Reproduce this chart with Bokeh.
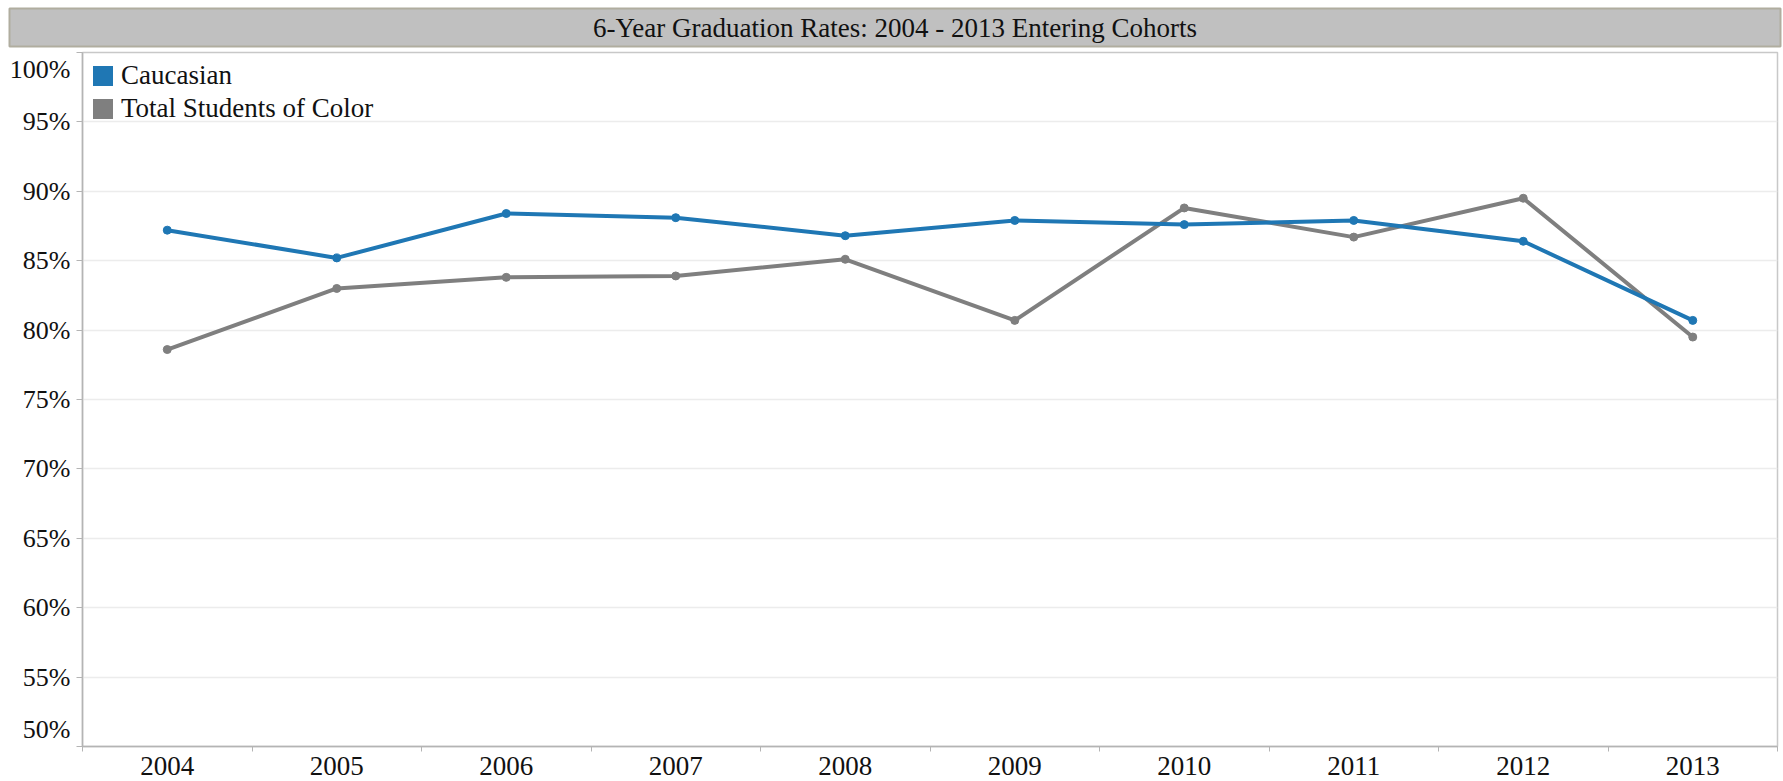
from bokeh.plotting import figure
from bokeh.models import (FixedTicker, Range1d, Label, Legend, LegendItem,
                          ColumnDataSource)
from bokeh.layouts import column
from bokeh.embed import file_html
from bokeh.resources import INLINE

# ---------------- data ----------------
title_text = "6-Year Graduation Rates: 2004 - 2013 Entering Cohorts"
years = ["2004", "2005", "2006", "2007", "2008", "2009", "2010", "2011", "2012", "2013"]
caucasian = [87.2, 85.2, 88.4, 88.1, 86.8, 87.9, 87.6, 87.9, 86.4, 80.7]
students_of_color = [78.6, 83.0, 83.8, 83.9, 85.1, 80.7, 88.8, 86.7, 89.5, 79.5]
series_names = ["Caucasian", "Total Students of Color"]
y_tick_values = [50, 55, 60, 65, 70, 75, 80, 85, 90, 95, 100]

FONT = "Liberation Serif"
BLUE = "#1f77b4"
GRAY = "#7f7f7f"
W = 1783

# ---------------- title bar ----------------
tf = figure(width=W, height=51, title=None, toolbar_location=None,
            output_backend="svg", x_axis_type=None, y_axis_type=None,
            x_range=Range1d(0, 1), y_range=Range1d(0, 1),
            min_border_left=9, min_border_right=3, min_border_top=8,
            min_border_bottom=5, frame_align=False)
tf.background_fill_color = "#c0c0c0"
tf.border_fill_color = "white"
tf.outline_line_color = "#b0ad9f"
tf.outline_line_width = 2
tf.grid.visible = False
tf.add_layout(Label(x=0.5, y=0.5, text=title_text, text_align="center",
                    text_baseline="middle", text_font=FONT,
                    text_font_size="27px", text_color="#111111"))

# ---------------- main plot ----------------
n = len(years)
xs = [i + 0.5 for i in range(n)]
src = ColumnDataSource(dict(x=xs, c=caucasian, s=students_of_color))

p = figure(width=W, height=730, title=None, toolbar_location=None,
           output_backend="svg",
           x_range=Range1d(0, n), y_range=Range1d(y_tick_values[0], y_tick_values[-1]),
           min_border_left=82, min_border_right=6, min_border_top=1,
           min_border_bottom=35, frame_align=False)
p.background_fill_color = "white"
p.border_fill_color = "white"
p.outline_line_color = "#c8c8c8"
p.outline_line_width = 1.5

# x axis: labels at category centres, separator ticks at boundaries
xa = p.xaxis[0]
xa.ticker = FixedTicker(ticks=xs, minor_ticks=list(range(n + 1)))
xa.major_label_overrides = {x: y for x, y in zip(xs, years)}
xa.major_tick_out = 0
xa.major_tick_in = 0
xa.minor_tick_out = 5
xa.minor_tick_in = 0
xa.minor_tick_line_color = "#b4b4b4"
xa.axis_line_color = "#b4b4b4"
xa.axis_line_width = 1.5
xa.major_label_standoff = 5
xa.major_label_text_font = FONT
xa.major_label_text_font_size = "27px"
xa.major_label_text_color = "#111111"

# y axis: end labels nudged inward (Tableau style)
lo, hi = y_tick_values[0], y_tick_values[-1]
shift = 1.25
label_pos = [lo + shift] + y_tick_values[1:-1] + [hi - shift]
ya = p.yaxis[0]
ya.ticker = FixedTicker(ticks=label_pos, minor_ticks=y_tick_values)
ya.major_label_overrides = {pos: f"{v}%" for pos, v in zip(label_pos, y_tick_values)}
ya.major_tick_out = 0
ya.major_tick_in = 0
ya.minor_tick_out = 6
ya.minor_tick_in = 0
ya.minor_tick_line_color = "#b4b4b4"
ya.axis_line_color = "#b4b4b4"
ya.axis_line_width = 1.5
ya.major_label_standoff = 6
ya.major_label_text_font = FONT
ya.major_label_text_font_size = "26px"
ya.major_label_text_color = "#111111"

p.xgrid.visible = False
p.ygrid.ticker = FixedTicker(ticks=y_tick_values[1:-1])
p.ygrid.grid_line_color = "#ececec"
p.ygrid.grid_line_width = 1.5

# lines + points
p.line("x", "s", source=src, line_color=GRAY, line_width=4)
p.scatter("x", "s", source=src, size=8, fill_color=GRAY, line_color=GRAY)
p.line("x", "c", source=src, line_color=BLUE, line_width=4)
p.scatter("x", "c", source=src, size=8, fill_color=BLUE, line_color=BLUE)

# legend with square swatches (zero-size rects carry the legend visuals)
r_c = p.rect("x", "c", width=0, height=0, source=src, fill_color=BLUE, line_color=None)
r_s = p.rect("x", "s", width=0, height=0, source=src, fill_color=GRAY, line_color=None)
legend = Legend(items=[LegendItem(label=series_names[0], renderers=[r_c]),
                       LegendItem(label=series_names[1], renderers=[r_s])],
                location="top_left")
legend.margin = 8
legend.padding = 10
legend.border_line_color = None
legend.background_fill_alpha = 0
legend.glyph_width = 25
legend.glyph_height = 25
legend.label_standoff = 6
legend.spacing = 2
legend.label_text_font = FONT
legend.label_text_font_size = "27px"
legend.label_text_color = "#111111"
p.add_layout(legend)

layout = column(tf, p, spacing=0)
open("out.html", "w").write(file_html(layout, INLINE))
